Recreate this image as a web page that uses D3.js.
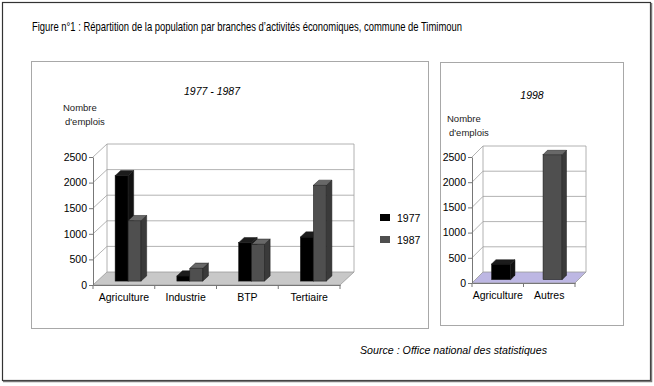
<!DOCTYPE html>
<html>
<head>
<meta charset="utf-8">
<script src="https://cdn.jsdelivr.net/npm/d3@7"></script>
<style>
  body { margin: 0; background: #fff; }
  text { font-family: "Liberation Sans", Arial, sans-serif; }
</style>
</head>
<body>
<div id="chart"></div>
<script>
// data
const categories1 = ["Agriculture", "Industrie", "BTP", "Tertiaire"];
const series1977 = [2060, 100, 750, 860];
const series1987 = [1180, 250, 720, 1870];
const categories2 = ["Agriculture", "Autres"];
const series1998 = [310, 2480];
const yTicks = [0, 500, 1000, 1500, 2000, 2500];

const black = { front: "#000", side: "#111", top: "#1c1c1c" };
const grey = { front: "#4f4f4f", side: "#3a3a3a", top: "#686868" };

const svg = d3.select("#chart")
    .append("svg")
    .attr("width", 654)
    .attr("height", 386);

// outer frame
svg.append("rect")
    .attr("x", 2.5).attr("y", 2.5)
    .attr("width", 648).attr("height", 378)
    .attr("fill", "none")
    .attr("stroke", "#333")
    .attr("stroke-width", 1.2);
svg.append("path")
    .attr("d", "M3,381.5 H651.5 V3")
    .attr("fill", "none")
    .attr("stroke", "#777")
    .attr("stroke-width", 1.5);

svg.append("text")
    .attr("x", 32).attr("y", 31)
    .style("font-family", "'Liberation Sans Narrow', 'Liberation Sans', sans-serif")
    .style("font-size", "13px")
    .attr("textLength", 430)
    .attr("lengthAdjust", "spacingAndGlyphs")
    .attr("fill", "#000")
    .text("Figure n°1 : Répartition de la population par branches d’activités économiques, commune de Timimoun");

svg.append("text")
    .attr("x", 360).attr("y", 354)
    .style("font-family", "'Liberation Sans Narrow', 'Liberation Sans', sans-serif")
    .style("font-size", "10.5px")
    .style("font-style", "italic")
    .attr("textLength", 187)
    .attr("lengthAdjust", "spacingAndGlyphs")
    .attr("fill", "#000")
    .text("Source : Office national des statistiques");

// panel boxes
svg.append("rect")
    .attr("x", 31.5).attr("y", 61.5).attr("width", 397).attr("height", 267)
    .attr("fill", "none").attr("stroke", "#a8a8a8");
svg.append("rect")
    .attr("x", 440.5).attr("y", 62.5).attr("width", 183).attr("height", 263)
    .attr("fill", "none").attr("stroke", "#a8a8a8");

function draw3D(cfg) {
    const g = svg.append("g");
    const { x0, x1, yBase, yTop, dx, dy } = cfg;
    const f0 = 0.3, f1 = 0.7; // depth of the bars inside the floor

    const y = d3.scaleLinear().domain([0, 2500]).range([yBase, yTop]);
    const x = d3.scaleBand().domain(cfg.categories).range([x0, x1]).padding(0);

    // floor
    g.append("path")
        .attr("d", `M${x0},${yBase} L${x1},${yBase} L${x1 + dx},${yBase + dy} L${x0 + dx},${yBase + dy} Z`)
        .attr("fill", cfg.floor)
        .attr("stroke", "#999")
        .attr("stroke-width", 0.8);

    // gridlines on left wall and back wall
    g.selectAll(".grid")
        .data(yTicks.slice(1))
        .enter().append("path")
        .attr("d", d => `M${x0},${y(d)} L${x0 + dx},${y(d) + dy} L${x1 + dx},${y(d) + dy}`)
        .attr("fill", "none")
        .attr("stroke", "#a0a0a0")
        .attr("stroke-width", 0.8);

    g.append("path")
        .attr("d", `M${x0 + dx},${yBase + dy} V${yTop + dy} M${x1 + dx},${yBase + dy} V${yTop + dy}`)
        .attr("fill", "none")
        .attr("stroke", "#a0a0a0")
        .attr("stroke-width", 0.8);

    // bars, drawn left to right so the next bar hides the side of the previous one
    cfg.series.forEach(s => {
        s.values.forEach((v, i) => {
            const c = s.colors[i] || s.colors[0];
            const band = x.bandwidth();
            const left = x(cfg.categories[i]) + band * s.from;
            const right = x(cfg.categories[i]) + band * s.to;
            const top = y(v), base = y(0);
            const bg = g.append("g").attr("stroke", "#1a1a1a").attr("stroke-width", 0.5);
            bg.append("rect")
                .attr("x", left + f0 * dx)
                .attr("y", top + f0 * dy)
                .attr("width", right - left)
                .attr("height", base - top)
                .attr("fill", c.front);
            bg.append("path")
                .attr("d", `M${right + f0 * dx},${base + f0 * dy} L${right + f1 * dx},${base + f1 * dy} L${right + f1 * dx},${top + f1 * dy} L${right + f0 * dx},${top + f0 * dy} Z`)
                .attr("fill", c.side);
            bg.append("path")
                .attr("d", `M${left + f0 * dx},${top + f0 * dy} L${right + f0 * dx},${top + f0 * dy} L${right + f1 * dx},${top + f1 * dy} L${left + f1 * dx},${top + f1 * dy} Z`)
                .attr("fill", c.top);
        });
    });

    // y axis
    const ya = g.append("g")
        .attr("transform", `translate(${x0},0)`)
        .call(d3.axisLeft(y).tickValues(yTicks).tickFormat(d3.format("d")).tickSize(4).tickSizeOuter(0));
    ya.select(".domain").attr("stroke", "#777");
    ya.selectAll(".tick line").attr("stroke", "#777");
    ya.selectAll("text")
        .style("font-size", "10.5px")
        .attr("fill", "#000")
        .attr("x", -6);

    // x axis: ticks at category boundaries, labels centred
    const xa = g.append("g")
        .attr("transform", `translate(0,${yBase})`)
        .call(d3.axisBottom(x).tickSize(0).tickPadding(9));
    xa.select(".domain").attr("stroke", "#777");
    xa.selectAll("text")
        .style("font-size", "10.5px")
        .attr("fill", "#000");
    const bounds = cfg.categories.map(c => x(c)).concat([x1]);
    g.selectAll(".xtick")
        .data(bounds)
        .enter().append("line")
        .attr("x1", d => d).attr("x2", d => d)
        .attr("y1", yBase).attr("y2", yBase + 4)
        .attr("stroke", "#777");

    g.append("text")
        .attr("x", cfg.titleX).attr("y", cfg.titleY)
        .attr("text-anchor", "middle")
        .style("font-size", "10.5px")
        .style("font-style", "italic")
        .attr("fill", "#000")
        .text(cfg.title);

    g.append("text")
        .attr("x", cfg.unitX).attr("y", cfg.unitY)
        .style("font-size", "9.5px")
        .attr("fill", "#222")
        .text("Nombre");
    g.append("text")
        .attr("x", cfg.unitX + 2).attr("y", cfg.unitY + 14)
        .style("font-size", "9.5px")
        .attr("fill", "#222")
        .text("d'emplois");
}

draw3D({
    x0: 93, x1: 340, yBase: 285, yTop: 157, dx: 14, dy: -13,
    categories: categories1,
    floor: "#c8c8c8",
    series: [
        { name: "1977", values: series1977, from: 0.29, to: 0.5, colors: [black] },
        { name: "1987", values: series1987, from: 0.5, to: 0.71, colors: [grey] }
    ],
    title: "1977 - 1987", titleX: 212, titleY: 95,
    unitX: 63, unitY: 111
});

draw3D({
    x0: 472, x1: 575, yBase: 283, yTop: 157, dx: 11, dy: -11,
    categories: categories2,
    floor: "#bdb7e3",
    series: [
        { name: "1998", values: series1998, from: 0.315, to: 0.685, colors: [black, grey] }
    ],
    title: "1998", titleX: 532, titleY: 99,
    unitX: 447, unitY: 122
});

// legend
const legendData = [
    { label: "1977", color: black.front },
    { label: "1987", color: grey.front }
];
const legend = svg.append("g");
legend.selectAll("rect")
    .data(legendData)
    .enter().append("rect")
    .attr("x", 380)
    .attr("y", (d, i) => 214 + i * 22)
    .attr("width", 10)
    .attr("height", 7)
    .attr("fill", d => d.color);
legend.selectAll("text")
    .data(legendData)
    .enter().append("text")
    .attr("x", 397)
    .attr("y", (d, i) => 222 + i * 22)
    .style("font-size", "10.5px")
    .attr("fill", "#000")
    .text(d => d.label);
</script>
</body>
</html>
